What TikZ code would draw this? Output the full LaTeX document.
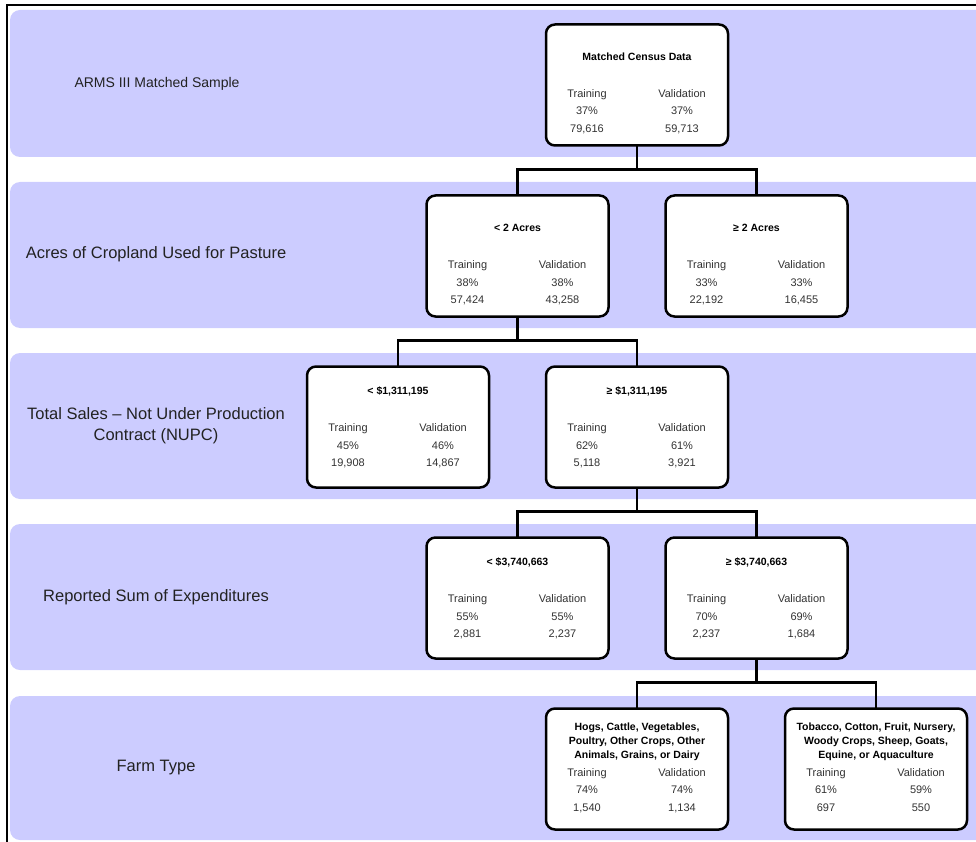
\documentclass[tikz,border=0pt]{standalone}
\usepackage{fontspec}
\setmainfont{Liberation Sans}
\usepackage{xcolor}
\usepackage{tikz}
\usetikzlibrary{positioning}
\definecolor{arband}{HTML}{CCCCFF}
\definecolor{arstat}{HTML}{333333}
\definecolor{arlabel}{HTML}{222222}
\newcommand{\colpair}[2]{\makebox[60pt]{#1}\hspace{35pt}\makebox[65pt][l]{\makebox[60pt]{#2}}}
\newcommand{\splitcontent}[7]{%
  \parbox[c][121pt][t]{182pt}{\centering
    {\fontsize{10.5}{14}\selectfont\bfseries\rule{0pt}{#1}#2\par}
    \vspace{#3}
    \fontsize{11}{17.5}\selectfont\color{arstat}
    \colpair{Training}{Validation}\\
    \colpair{#4}{#5}\\
    \colpair{#6}{#7}}}
\tikzset{
  splitbox/.style={
    draw=black,
    fill=white,
    rounded corners=9pt,
    line width=2.5pt,
    inner sep=0pt,
    outer sep=0pt
  },
  band/.style={
    fill=arband,
    rounded corners=10pt
  },
  levellabel/.style={
    font=\fontsize{16.5}{21}\selectfont,
    text=arlabel,
    align=center
  },
  branch/.style={
    draw=black,
    line width=2.5pt
  }
}

\begin{document}
\begin{tikzpicture}[x=1pt, y=-1pt, node distance=50pt and 57pt]
  \useasboundingbox (0,0) rectangle (976,842);
  \clip (0,0) rectangle (976,842);
  \draw[line width=2pt] (7,850) -- (7,5) -- (985,5);

  \fill[band] (10,10) rectangle (995,157);
  \fill[band] (10,182) rectangle (995,328);
  \fill[band] (10,353) rectangle (995,499);
  \fill[band] (10,524) rectangle (995,670);
  \fill[band] (10,696) rectangle (995,840);

  \node[levellabel, font=\fontsize{14}{17}\selectfont] (lblarms) at (157,84)
    {ARMS III Matched Sample};
  \node[levellabel] (lblacres) at (156,254) {Acres of Cropland Used for Pasture};
  \node[levellabel] (lblsales) at (156,426)
    {Total Sales -- Not Under Production\\Contract (NUPC)};
  \node[levellabel] (lblexp) at (156,597) {Reported Sum of Expenditures};
  \node[levellabel] (lbltype) at (156,768) {Farm Type};

  \node[splitbox] (census) at (637,85)
    {\splitcontent{36pt}{Matched Census Data}{19.5pt}{37\%}{37\%}{79,616}{59,713}};

  \node[splitbox, below=of census, xshift=-119.5pt] (acrelow)
    {\splitcontent{36pt}{< 2 Acres}{19.5pt}{38\%}{38\%}{57,424}{43,258}};
  \node[splitbox, right=of acrelow] (acrehigh)
    {\splitcontent{36pt}{≥ 2 Acres}{19.5pt}{33\%}{33\%}{22,192}{16,455}};

  \node[splitbox, below=of acrelow, xshift=-119.5pt] (saleslow)
    {\splitcontent{28pt}{< \$1,311,195}{19.5pt}{45\%}{46\%}{19,908}{14,867}};
  \node[splitbox, right=of saleslow] (saleshigh)
    {\splitcontent{28pt}{≥ \$1,311,195}{19.5pt}{62\%}{61\%}{5,118}{3,921}};

  \node[splitbox, below=of saleshigh, xshift=-119.5pt] (explow)
    {\splitcontent{28pt}{< \$3,740,663}{19.5pt}{55\%}{55\%}{2,881}{2,237}};
  \node[splitbox, right=of explow] (exphigh)
    {\splitcontent{28pt}{≥ \$3,740,663}{19.5pt}{70\%}{69\%}{2,237}{1,684}};

  \node[splitbox, below=of exphigh, xshift=-119.5pt] (typehogs)
    {\splitcontent{22pt}{Hogs, Cattle, Vegetables,\\Poultry, Other Crops, Other\\Animals, Grains, or Dairy}{0pt}{74\%}{74\%}{1,540}{1,134}};
  \node[splitbox, right=of typehogs] (typetobacco)
    {\splitcontent{22pt}{Tobacco, Cotton, Fruit, Nursery,\\Woody Crops, Sheep, Goats,\\Equine, or Aquaculture}{0pt}{61\%}{59\%}{697}{550}};

  \draw[branch] (census.south) -- ++(0,24) -| (acrelow.north);
  \draw[branch] (census.south) -- ++(0,24) -| (acrehigh.north);
  \draw[branch] (acrelow.south) -- ++(0,24) -| (saleslow.north);
  \draw[branch] (acrelow.south) -- ++(0,24) -| (saleshigh.north);
  \draw[branch] (saleshigh.south) -- ++(0,24) -| (explow.north);
  \draw[branch] (saleshigh.south) -- ++(0,24) -| (exphigh.north);
  \draw[branch] (exphigh.south) -- ++(0,24) -| (typehogs.north);
  \draw[branch] (exphigh.south) -- ++(0,24) -| (typetobacco.north);
\end{tikzpicture}
\end{document}
